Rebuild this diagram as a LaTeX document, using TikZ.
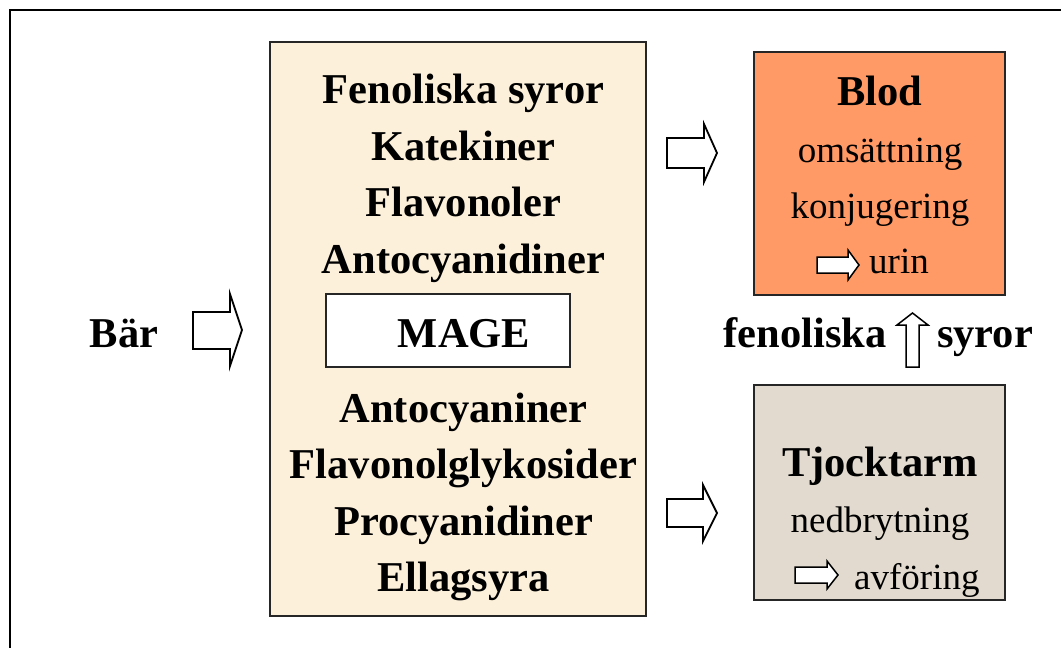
\documentclass[tikz,border=0pt]{standalone}
\usepackage{fontspec}
\setmainfont{Liberation Serif}
\definecolor{beige}{HTML}{FCF0DA}
\definecolor{blodc}{HTML}{FF9966}
\definecolor{stone}{HTML}{E2DACE}
\begin{document}
\begin{tikzpicture}[x=1pt,y=-1pt,
  box/.style={draw=black!85, line width=2pt, inner sep=0pt, anchor=center},
  big/.style={anchor=base, inner sep=0pt, font=\fontsize{42.5}{50}\selectfont\bfseries},
  reg/.style={anchor=base, inner sep=0pt, font=\fontsize{37}{44}\selectfont},
  barrow/.style={draw=black, line width=1.8pt, fill=white, line join=miter},
  sarrow/.style={draw=black, line width=1.5pt, fill=white, line join=miter}]
\useasboundingbox (0,0) rectangle (1061,648);
\draw[line width=2pt] (10,660) -- (10,10) -- (1075,10);
% boxes
\node[box, fill=beige, minimum width=376pt, minimum height=574pt] (main) at (458,329) {};
\node[box, fill=blodc, minimum width=251pt, minimum height=243pt] (blod) at (879.5,173.5) {};
\node[box, fill=stone, minimum width=251pt, minimum height=215pt] (tjock) at (879.5,492.5) {};
\node[box, fill=white, line width=1.3pt, minimum width=244pt, minimum height=73pt] (mage) at (448,330.5) {};
% main texts
\node[big] (t1) at (463.5,103) {Fenoliska syror};
\node[big] (t2) at (463.5,160) {Katekiner};
\node[big] (t3) at (463.5,216) {Flavonoler};
\node[big] (t4) at (463.5,273) {Antocyanidiner};
\node[big] (tm) at (464,347) {MAGE};
\node[big] (t5) at (463.5,422) {Antocyaniner};
\node[big] (t6) at (463.5,478.5) {Flavonolglykosider};
\node[big] (t7) at (463.5,535) {Procyanidiner};
\node[big] (t8) at (463.5,591.5) {Ellagsyra};
% left
\node[big] (bar) at (124,347) {Bär};
\draw[barrow] (193,312) -- (230,312) -- (230,294) -- (242,330) -- (230,366) -- (230,349) -- (193,349) -- cycle;
% right arrows
\draw[barrow] (667,138) -- (704,138) -- (704,124) -- (717,153) -- (704,182) -- (704,168) -- (667,168) -- cycle;
\draw[barrow] (667,499) -- (703,499) -- (703,485) -- (717,513) -- (703,541) -- (703,527) -- (667,527) -- cycle;
% blod texts
\node[big] (bl) at (880,105) {Blod};
\node[reg] (b1) at (880,162) {omsättning};
\node[reg] (b2) at (880,218) {konjugering};
\node[reg, anchor=base west] (b3) at (869,273) {urin};
\draw[sarrow] (817,257) -- (848,257) -- (848,250) -- (859,265) -- (848,280) -- (848,273) -- (817,273) -- cycle;
% middle
\node[big] (f1) at (805,347) {fenoliska};
\node[big] (f2) at (985,347) {syror};
\draw[barrow, line width=1.5pt] (906,367) -- (906,325) -- (897,325) -- (912.5,313) -- (928,325) -- (919,325) -- (919,367) -- cycle;
% tjocktarm texts
\node[big] (tj) at (880,476) {Tjocktarm};
\node[reg] (n1) at (880,532) {nedbrytning};
\node[reg, anchor=base west] (n2) at (854,589) {avföring};
\draw[sarrow] (795,567) -- (827,567) -- (827,561) -- (838,575) -- (827,589) -- (827,583) -- (795,583) -- cycle;
\end{tikzpicture}
\end{document}
